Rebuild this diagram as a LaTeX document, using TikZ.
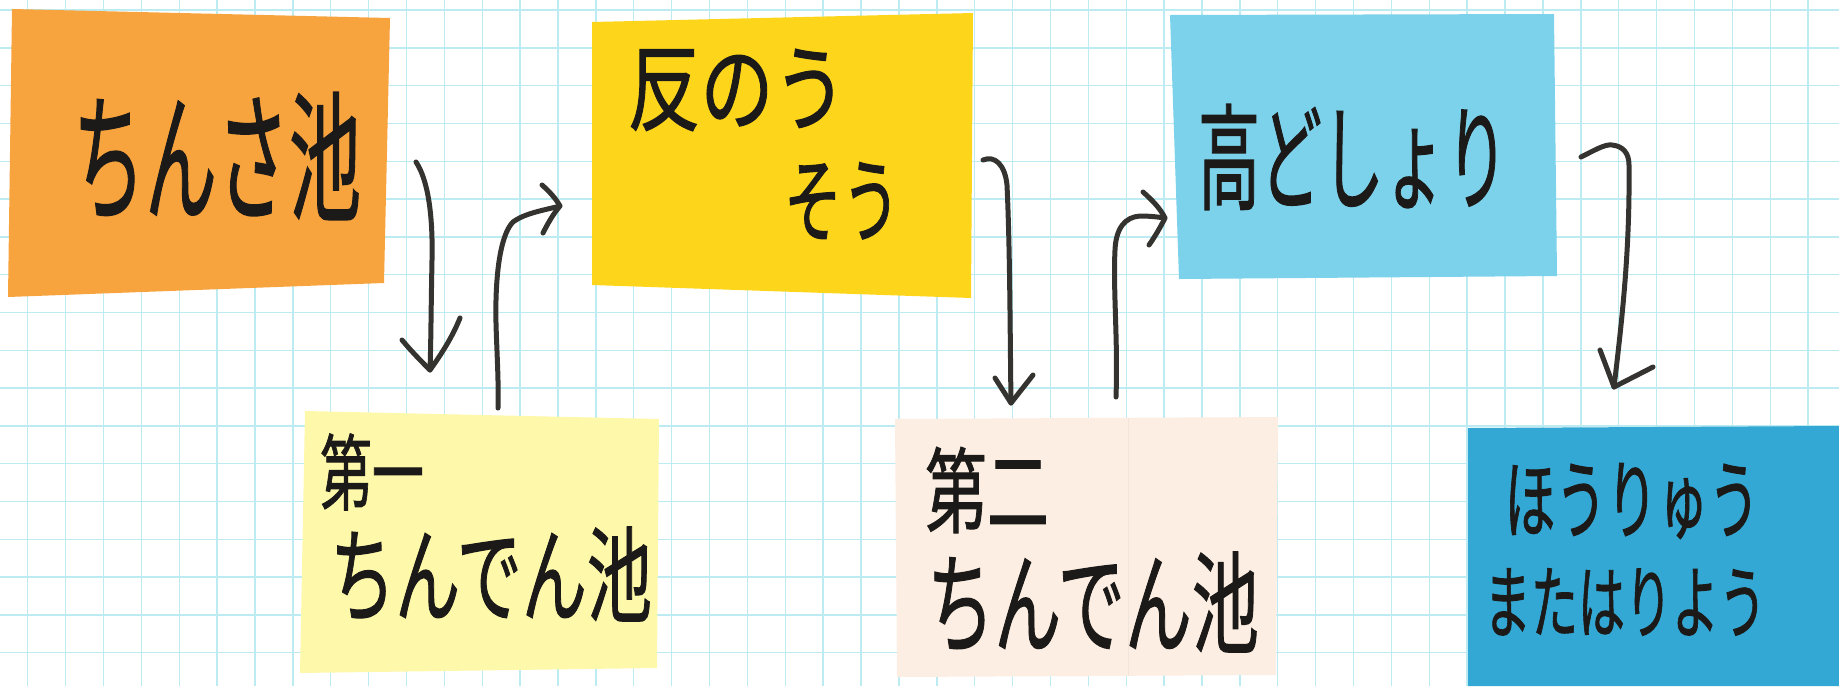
\documentclass[tikz,border=0pt]{standalone}
\usepackage{graphicx}
\usepackage{fontspec}
\newfontfamily\jp[FakeBold=1.2]{Noto Sans CJK JP}
\definecolor{gridc}{HTML}{BDEBF2}
\definecolor{inkc}{HTML}{35332F}
\definecolor{textc}{HTML}{1C1A18}
\definecolor{noteOrange}{HTML}{F8A43E}
\definecolor{noteYellow}{HTML}{FDD61C}
\definecolor{noteSky}{HTML}{7DD2EB}
\definecolor{notePale}{HTML}{FDF8AA}
\definecolor{notePeach}{HTML}{FCEEE2}
\definecolor{noteBlue}{HTML}{34A8D4}
\newcommand\hwtext[3]{\scalebox{1}[#2]{\fontsize{#1}{#1}\selectfont\jp #3}}
\tikzset{
  gridline/.style={draw=gridc, line width=1.4pt},
  txt/.style={inner sep=0pt, text=textc},
  pen/.style={draw=inkc, line width=5pt, line cap=round, line join=round},
}
\begin{document}
\begin{tikzpicture}[x=1pt,y=-1pt]
\useasboundingbox (0,0) rectangle (1839,686);
\fill[white] (0,0) rectangle (1839,686);
% graph paper
\foreach \i in {0,...,47} \draw[gridline] ({27.7+37.88*\i},0) -- ({27.7+37.88*\i},686);
\foreach \j in {0,...,17} \draw[gridline] (0,{10+37.8*\j}) -- (1839,{10+37.8*\j});
% sticky notes
\fill[noteOrange] (12,9) -- (390,18) -- (384,283) -- (8,297) -- cycle;
\fill[noteYellow] (592,22) -- (973,13) -- (971,298) -- (592,285) -- cycle;
\fill[noteSky] (1170,15) -- (1554,14) -- (1557,276) -- (1179,279) -- cycle;
\fill[notePale] (305,411) -- (659,419) -- (657,668) -- (300,673) -- cycle;
\fill[notePeach] (895,419) -- (1278,417) -- (1276,675) -- (897,677) -- cycle;
\draw[notePeach!92!black, line width=0.8pt, opacity=0.5] (1128,418) -- (1128,676);
\fill[noteBlue] (1468,428) -- (1839,426) -- (1839,686) -- (1468,686) -- cycle;
% texts
\node[txt] (chinsa) at (217,156) {\hwtext{72}{1.95}{ちんさ池}};
\node[txt] (hanno1) at (737,90) {\hwtext{73}{1.3}{反のう}};
\node[txt] (hanno2) at (842,201) {\hwtext{58}{1.6}{そう}};
\node[txt] (kodo) at (1353,157) {\hwtext{62}{1.85}{高どしょり}};
\node[txt] (dai1a) at (372,472) {\hwtext{52}{1.6}{第一}};
\node[txt] (dai1b) at (491,574) {\hwtext{65}{1.6}{ちんでん池}};
\node[txt] (dai2a) at (987,490) {\hwtext{62}{1.5}{第二}};
\node[txt] (dai2b) at (1093,602) {\hwtext{67}{1.65}{ちんでん池}};
\node[txt] (hoan1) at (1632,501) {\hwtext{51}{1.7}{ほうりゅう}};
\node[txt] (hoan2) at (1625,602) {\hwtext{47}{1.7}{またはりよう}};
% arrow end points
\coordinate (a1s) at (416,162); \coordinate (a1e) at (430,370);
\coordinate (a2s) at (498,408); \coordinate (a2e) at (560,206);
\coordinate (a3s) at (983,160); \coordinate (a3e) at (1011,403);
\coordinate (a4s) at (1116,397); \coordinate (a4e) at (1165,218);
\coordinate (a5s) at (1581,157); \coordinate (a5e) at (1614,387);
% arrow 1
\draw[pen] (a1s) .. controls (428,180) and (433,215) .. (432,260) .. controls (431,310) and (431,340) .. (a1e);
\draw[pen] (402,340) .. controls (412,352) and (422,362) .. (a1e) .. controls (440,356) and (452,338) .. (460,318);
% arrow 2
\draw[pen] (a2s) .. controls (499,370) and (495,330) .. (496,300) .. controls (497,260) and (503,232) .. (513,222) .. controls (525,213) and (545,210) .. (a2e);
\draw[pen] (542,185) .. controls (550,192) and (556,199) .. (a2e) .. controls (553,214) and (547,225) .. (543,233);
% arrow 3
\draw[pen] (a3s) .. controls (995,155) and (1005,165) .. (1007,185) .. controls (1010,250) and (1010,330) .. (a3e);
\draw[pen] (995,378) -- (a3e) -- (1033,375);
% arrow 4
\draw[pen] (a4s) .. controls (1118,340) and (1113,290) .. (1115,250) .. controls (1116,228) and (1125,217) .. (1140,216) .. controls (1150,216) and (1158,217) .. (a4e);
\draw[pen] (1143,192) .. controls (1152,200) and (1160,208) .. (a4e) .. controls (1160,228) and (1154,238) .. (1149,245);
% arrow 5
\draw[pen] (a5s) .. controls (1595,150) and (1605,144) .. (1612,145) .. controls (1622,146) and (1629,152) .. (1629,165) .. controls (1630,250) and (1622,320) .. (a5e);
\draw[pen] (1600,350) -- (a5e) -- (1653,367);
\end{tikzpicture}
\end{document}
